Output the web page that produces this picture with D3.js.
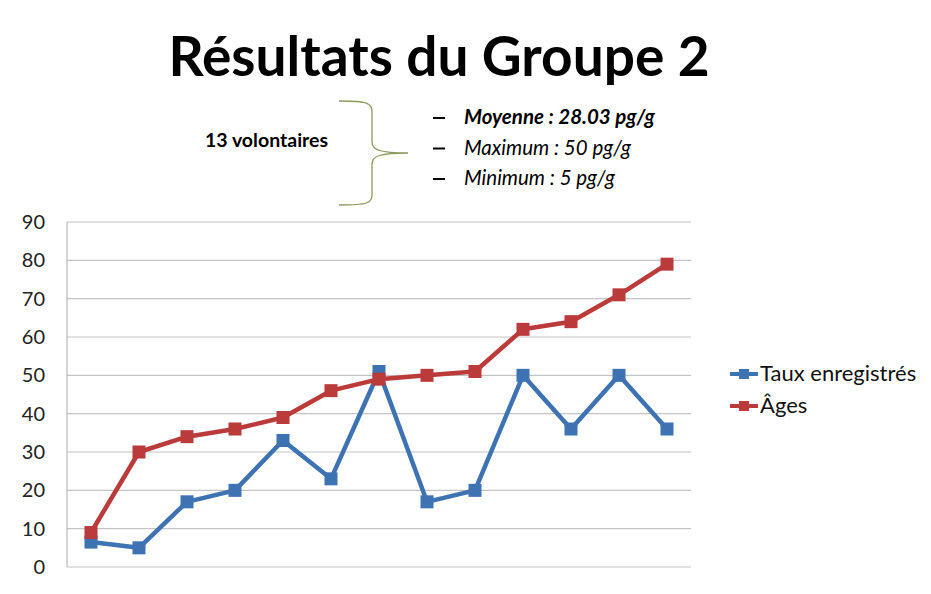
<!DOCTYPE html>
<html><head><meta charset="utf-8">
<script src="https://cdn.jsdelivr.net/npm/d3@7"></script>
<style>body{margin:0;background:#fff}svg{display:block}</style>
</head><body>
<svg id="c" width="931" height="594"></svg>
<script>
const categories = ["1","2","3","4","5","6","7","8","9","10","11","12","13"];
const tauxValues = [6.5, 5, 17, 20, 33, 23, 51, 17, 20, 50, 36, 50, 36];
const agesValues = [9, 30, 34, 36, 39, 46, 49, 50, 51, 62, 64, 71, 79];
const yTicks = [0, 10, 20, 30, 40, 50, 60, 70, 80, 90];
const seriesNames = ["Taux enregistrés", "Âges"];
const seriesColors = ["#3d72b3", "#bb3b3a"];
const titleText = "Résultats du Groupe 2";
const groupText = "13 volontaires";
const statLines = [
  {label: "Moyenne  : 28.03 pg/g", bold: true},
  {label: "Maximum : 50 pg/g", bold: false},
  {label: "Minimum : 5 pg/g", bold: false}
];

(function(){
const svg = d3.select("#c");
const font = "Lato, 'Open Sans', sans-serif";

svg.append("text").attr("x", 439).attr("y", 76).attr("text-anchor", "middle")
  .attr("font-family", font).attr("font-weight", 700).attr("font-size", 55)
  .attr("fill", "#000").text(titleText);

svg.append("text").attr("x", 205).attr("y", 147)
  .attr("font-family", font).attr("font-weight", 700).attr("font-size", 19.5)
  .attr("fill", "#000").text(groupText);

svg.append("path")
  .attr("d", "M339,101 C368,101 372,103 372,112 L372,142 C372,150 380,153 408,153 C380,153 372,156 372,164 L372,195 C372,203 368,205 339,205")
  .attr("fill", "none").attr("stroke", "#8c9a5e").attr("stroke-width", 1.3);

statLines.forEach((s, i) => {
  const yy = 124 + i * 30.5;
  svg.append("line").attr("x1", 433).attr("x2", 445).attr("y1", yy - 6).attr("y2", yy - 6)
    .attr("stroke", "#000").attr("stroke-width", 2);
  svg.append("text").attr("x", 464).attr("y", yy)
    .attr("font-family", font).attr("font-size", 20.5).attr("font-style", "italic")
    .attr("font-weight", s.bold ? 700 : 400).attr("fill", "#000").text(s.label);
});

const pl = 67, pr = 691, pt = 222, pb = 567;
const x = d3.scalePoint().domain(categories).range([pl, pr]).padding(0.5);
const y = d3.scaleLinear().domain([0, 90]).range([pb, pt]);

const g = svg.append("g");
g.selectAll("line.grid").data(yTicks).join("line")
  .attr("x1", pl).attr("x2", pr)
  .attr("y1", d => y(d)).attr("y2", d => y(d))
  .attr("stroke", "#c4c4c4").attr("stroke-width", 1.2);

g.append("line").attr("x1", pl).attr("x2", pl).attr("y1", pt).attr("y2", pb)
  .attr("stroke", "#b8b8b8").attr("stroke-width", 1.2);

const yAxis = d3.axisLeft(y).tickValues(yTicks).tickSize(0).tickPadding(22);
const ya = svg.append("g").attr("transform", `translate(${pl},0)`).call(yAxis);
ya.select(".domain").remove();
ya.selectAll("text").attr("font-family", font).attr("font-size", 20).attr("fill", "#222");

const series = [tauxValues, agesValues];
const line = d3.line().x((d, i) => x(categories[i])).y(d => y(d));

[0, 1].forEach(si => {
  const vals = series[si];
  const col = seriesColors[si];
  g.append("path").datum(vals).attr("d", line)
    .attr("fill", "none").attr("stroke", col).attr("stroke-width", 4.5)
    .attr("stroke-linejoin", "round");
  g.selectAll("rect.m" + si).data(vals).join("rect").attr("class", "m" + si)
    .attr("x", (d, i) => x(categories[i]) - 6.5).attr("y", d => y(d) - 6.5)
    .attr("width", 13).attr("height", 13).attr("fill", col);
});

seriesNames.forEach((name, i) => {
  const ly = 374 + i * 32;
  svg.append("line").attr("x1", 730).attr("x2", 758).attr("y1", ly).attr("y2", ly)
    .attr("stroke", seriesColors[i]).attr("stroke-width", 4);
  svg.append("rect").attr("x", 739).attr("y", ly - 5).attr("width", 10).attr("height", 10)
    .attr("fill", seriesColors[i]);
  svg.append("text").attr("x", 760).attr("y", ly + 7)
    .attr("font-family", font).attr("font-size", 22).attr("fill", "#111").text(name);
});
})();
</script>
</body></html>
